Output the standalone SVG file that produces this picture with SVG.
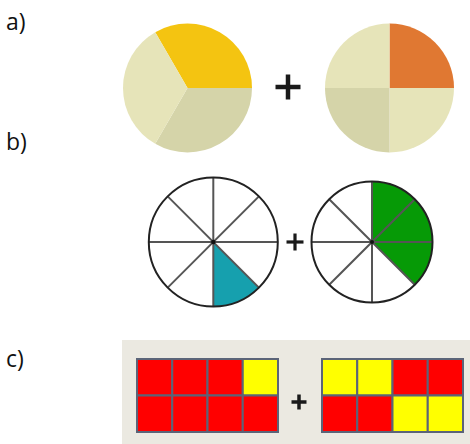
<svg xmlns="http://www.w3.org/2000/svg" width="470" height="444" viewBox="0 0 470 444">
<style>
.lbl{font-family:"Open Sans","Liberation Sans",sans-serif;font-size:23px;fill:#111}
.plus{stroke:#1a1a1a;stroke-linecap:butt}
.spoke{stroke:#555;stroke-width:2}
.rim{fill:none;stroke:#222;stroke-width:2}
.cell{stroke:#5b6478;stroke-width:2}
.r{fill:#ff0000}
.y{fill:#ffff00}
</style>
<rect width="470" height="444" fill="#ffffff"/>
<g id="labels">
<text class="lbl" x="6" y="30">a)</text>
<text class="lbl" x="6" y="150">b)</text>
<text class="lbl" x="6" y="367">c)</text>
</g>
<g id="pie-a-thirds">
<path d="M187.5,88 L155.25,32.14 A64.5,64.5 0 0 1 252,88 Z" fill="#f4c411"/>
<path d="M187.5,88 L252,88 A64.5,64.5 0 0 1 155.25,143.86 Z" fill="#d5d4a9"/>
<path d="M187.5,88 L155.25,143.86 A64.5,64.5 0 0 1 155.25,32.14 Z" fill="#e6e4b9"/>
</g>
<g id="plus-a">
<line class="plus" x1="275.5" y1="87" x2="300.5" y2="87" stroke-width="4.5"/>
<line class="plus" x1="288" y1="74.5" x2="288" y2="99.5" stroke-width="4.5"/>
</g>
<g id="pie-a-quarters">
<path d="M389.5,88 L389.5,23.5 A64.5,64.5 0 0 1 454,88 Z" fill="#e07832"/>
<path d="M389.5,88 L454,88 A64.5,64.5 0 0 1 389.5,152.5 Z" fill="#e6e4b9"/>
<path d="M389.5,88 L389.5,152.5 A64.5,64.5 0 0 1 325,88 Z" fill="#d5d4a9"/>
<path d="M389.5,88 L325,88 A64.5,64.5 0 0 1 389.5,23.5 Z" fill="#e6e4b9"/>
</g>
<g id="pie-b-left">
<circle cx="213.3" cy="242" r="64.5" fill="#fff"/>
<path d="M213.3,242 L258.9,287.6 A64.5,64.5 0 0 1 213.3,306.5 Z" fill="#16a0ae"/>
<line class="spoke" x1="148.8" y1="242" x2="277.8" y2="242"/>
<line class="spoke" x1="213.3" y1="177.5" x2="213.3" y2="306.5"/>
<line class="spoke" x1="167.7" y1="196.4" x2="258.9" y2="287.6"/>
<line class="spoke" x1="167.7" y1="287.6" x2="258.9" y2="196.4"/>
<circle class="rim" cx="213.3" cy="242" r="64.5"/>
<circle cx="213.3" cy="242" r="2.2" fill="#111"/>
</g>
<g id="plus-b">
<line class="plus" x1="286.5" y1="242" x2="303.5" y2="242" stroke-width="3.2"/>
<line class="plus" x1="295" y1="233.5" x2="295" y2="250.5" stroke-width="3.2"/>
</g>
<g id="pie-b-right">
<circle cx="372" cy="242" r="60.5" fill="#fff"/>
<path d="M372,242 L372,181.5 A60.5,60.5 0 0 1 414.8,284.8 Z" fill="#069a06"/>
<line class="spoke" x1="311.5" y1="242" x2="432.5" y2="242"/>
<line class="spoke" x1="372" y1="181.5" x2="372" y2="302.5"/>
<line class="spoke" x1="329.2" y1="199.2" x2="414.8" y2="284.8"/>
<line class="spoke" x1="329.2" y1="284.8" x2="414.8" y2="199.2"/>
<circle class="rim" cx="372" cy="242" r="60.5"/>
<circle cx="372" cy="242" r="2" fill="#111"/>
</g>
<g id="panel-c">
<rect x="122" y="340" width="348" height="104" fill="#ebe9e1"/>
</g>
<g id="grid-c-left">
<rect class="cell r" x="137" y="359" width="35.25" height="36.5"/>
<rect class="cell r" x="172.25" y="359" width="35.25" height="36.5"/>
<rect class="cell r" x="207.5" y="359" width="35.25" height="36.5"/>
<rect class="cell y" x="242.75" y="359" width="35.25" height="36.5"/>
<rect class="cell r" x="137" y="395.5" width="35.25" height="36.5"/>
<rect class="cell r" x="172.25" y="395.5" width="35.25" height="36.5"/>
<rect class="cell r" x="207.5" y="395.5" width="35.25" height="36.5"/>
<rect class="cell r" x="242.75" y="395.5" width="35.25" height="36.5"/>
</g>
<g id="plus-c">
<line class="plus" x1="291.5" y1="402" x2="306.5" y2="402" stroke-width="3.5"/>
<line class="plus" x1="299" y1="394.5" x2="299" y2="409.5" stroke-width="3.5"/>
</g>
<g id="grid-c-right">
<rect class="cell y" x="322" y="359" width="35.25" height="36.5"/>
<rect class="cell y" x="357.25" y="359" width="35.25" height="36.5"/>
<rect class="cell r" x="392.5" y="359" width="35.25" height="36.5"/>
<rect class="cell r" x="427.75" y="359" width="35.25" height="36.5"/>
<rect class="cell r" x="322" y="395.5" width="35.25" height="36.5"/>
<rect class="cell r" x="357.25" y="395.5" width="35.25" height="36.5"/>
<rect class="cell y" x="392.5" y="395.5" width="35.25" height="36.5"/>
<rect class="cell y" x="427.75" y="395.5" width="35.25" height="36.5"/>
</g>
</svg>
